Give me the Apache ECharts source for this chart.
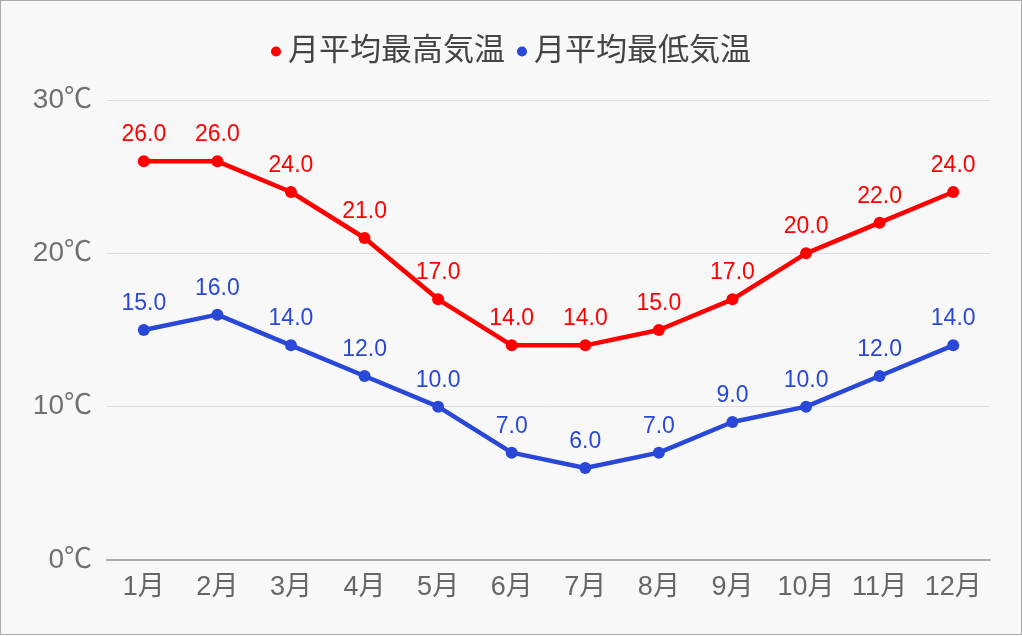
<!DOCTYPE html>
<html><head><meta charset="utf-8">
<script src="https://cdn.jsdelivr.net/npm/echarts@6/dist/echarts.min.js"></script>
<style>
html,body{margin:0;padding:0;background:#fff;}
#c{width:1020px;height:633px;border:1px solid #aaa;background:#f8f8f8;}
</style></head><body>
<div id="c"></div>
<script>
const months = ['1月','2月','3月','4月','5月','6月','7月','8月','9月','10月','11月','12月'];
const highTemps = [26,26,24,21,17,14,14,15,17,20,22,24];
const lowTemps = [15,16,14,12,10,7,6,7,9,10,12,14];
const seriesNames = ['月平均最高気温','月平均最低気温'];
const font = '"Liberation Sans", Arial, "Noto Sans CJK JP", sans-serif';
const chart = echarts.init(document.getElementById('c'));
function mk(name, data, color){
  return {
    name, type:'line', data, color,
    symbol:'circle', symbolSize:12,
    lineStyle:{width:4.5,color},
    itemStyle:{color},
    label:{show:true,position:'top',distance:9,color,fontSize:23,fontFamily:font,
      formatter:p=>p.value.toFixed(1)}
  };
}
chart.setOption({
  backgroundColor:'#f8f8f8',
  animation:false,
  legend:{top:30,left:'center',icon:'circle',itemWidth:10,itemHeight:10,itemGap:12,
    textStyle:{fontSize:31,color:'#444',fontFamily:font,padding:[0,0,0,2]},
    data:seriesNames},
  grid:{left:106,right:31,top:99,bottom:74},
  xAxis:{type:'category',data:months,
    axisLine:{lineStyle:{color:'#aaa',width:2}},axisTick:{show:false},
    axisLabel:{interval:0,fontSize:27,color:'#666',fontFamily:font,margin:14}},
  yAxis:{type:'value',min:0,max:30,interval:10,
    axisLabel:{fontSize:28,color:'#707070',fontFamily:font,margin:15,formatter:'{value}℃'},
    splitLine:{lineStyle:{color:'#ddd',width:1}},axisLine:{show:false},axisTick:{show:false}},
  series:[mk(seriesNames[0],highTemps,'#ff0000'),mk(seriesNames[1],lowTemps,'#2a48d8')]
});
</script></body></html>
